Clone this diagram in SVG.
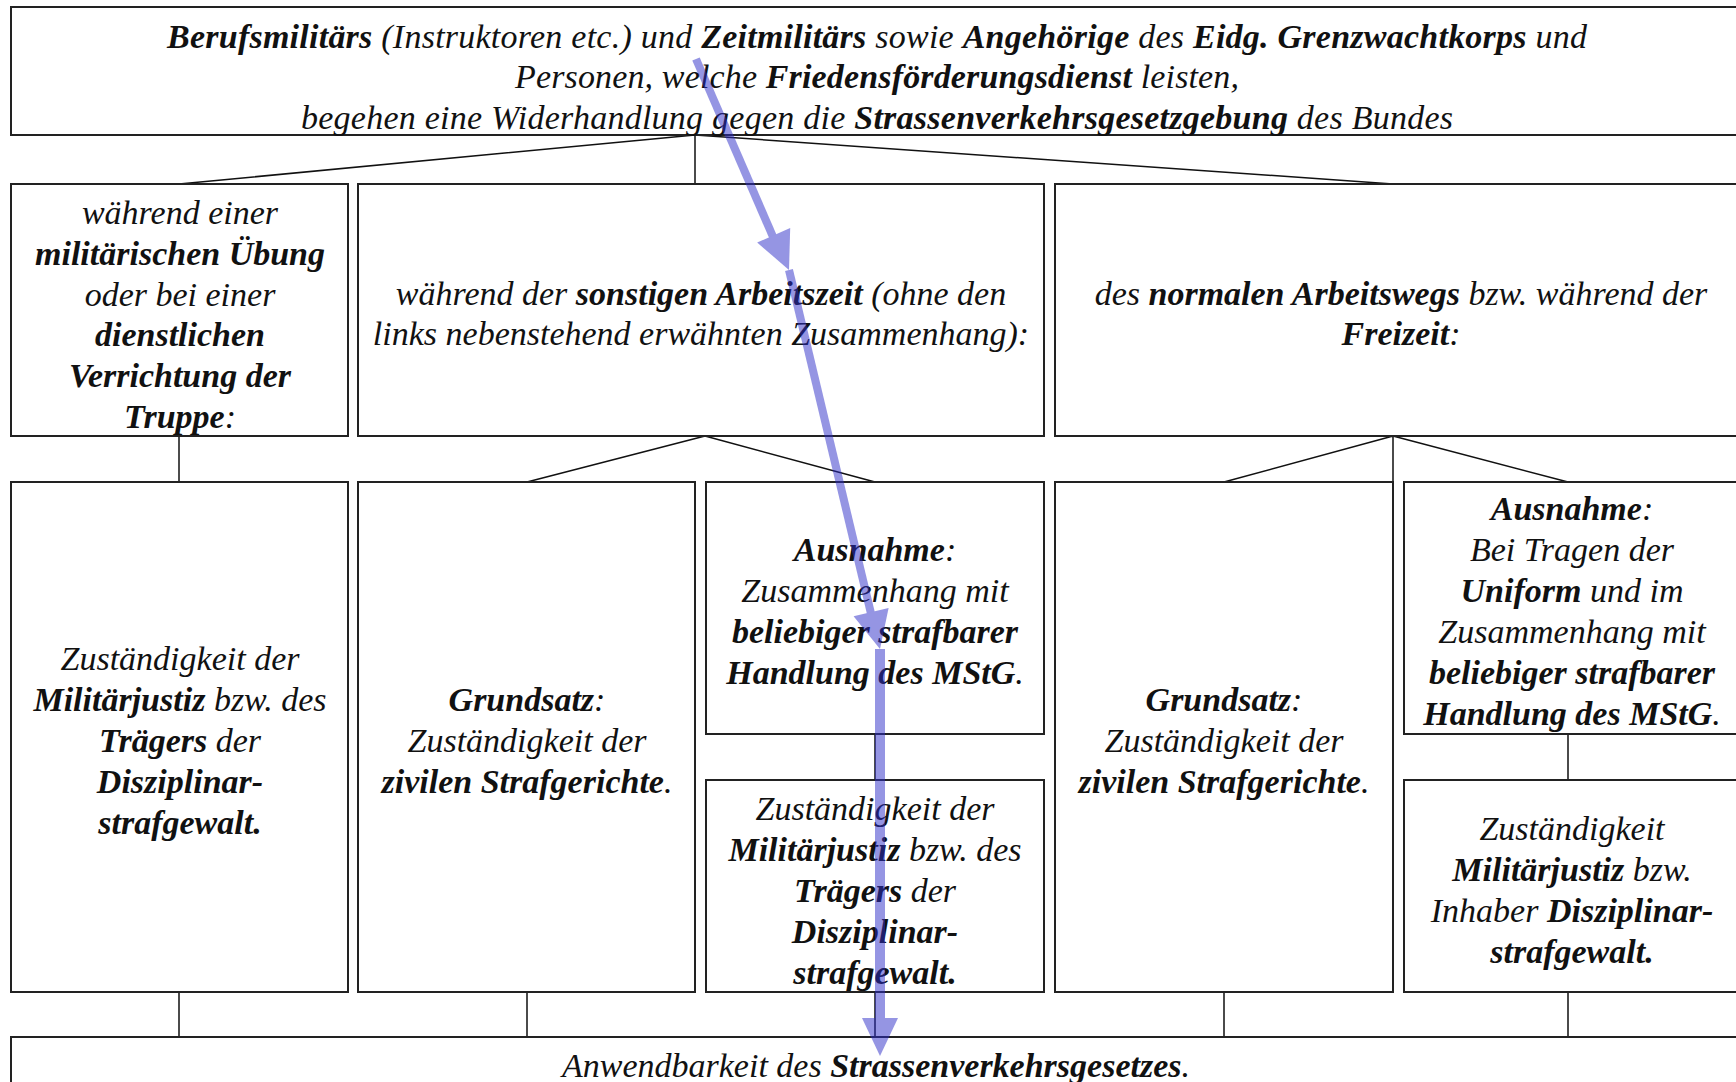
<svg xmlns="http://www.w3.org/2000/svg" width="1736" height="1082" viewBox="0 0 1736 1082">
<style>
.box{fill:#fff;stroke:#222;stroke-width:2}
.conn{stroke:#111;stroke-width:1.5;fill:none}
.t{font-family:"Liberation Serif","Times New Roman",serif;font-style:italic;font-size:34px;fill:#111;text-anchor:middle}
.b{font-weight:bold}
.ann{fill:rgb(45,45,201);stroke:none}
</style>
<rect width="1736" height="1082" fill="#fff"/>

<g id="connectors">
<path class="conn" d="M695,135 L179,184 M695,135 L695,184 M695,135 L1393,184"/>
<path class="conn" d="M179,436 L179,482"/>
<path class="conn" d="M705,436 L527,482 M705,436 L875,482"/>
<path class="conn" d="M1393,436 L1224,482 M1393,436 L1568,482 M1393,436 L1393,482"/>
<path class="conn" d="M875,734 L875,780 M1568,734 L1568,780"/>
<path class="conn" d="M179,992 L179,1037 M527,992 L527,1037 M875,992 L875,1037 M1224,992 L1224,1037 M1568,992 L1568,1037"/>
</g>

<g id="n_top">
<rect class="box" x="11" y="7" width="1740" height="128"/>
<text class="t" x="877" y="48" textLength="1420"><tspan class="b">Berufsmilitärs</tspan> (Instruktoren etc.) und <tspan class="b">Zeitmilitärs</tspan> sowie <tspan class="b">Angehörige</tspan> des <tspan class="b">Eidg. Grenzwachtkorps</tspan> und</text>
<text class="t" x="877" y="88" textLength="724">Personen, welche <tspan class="b">Friedensförderungsdienst</tspan> leisten,</text>
<text class="t" x="877" y="129" textLength="1152">begehen eine Widerhandlung gegen die <tspan class="b">Strassenverkehrsgesetzgebung</tspan> des Bundes</text>
</g>

<g id="n_a">
<rect class="box" x="11" y="184" width="337" height="252"/>
<text class="t" x="180" y="224">während einer</text>
<text class="t b" x="180" y="265">militärischen Übung</text>
<text class="t" x="180" y="306">oder bei einer</text>
<text class="t b" x="180" y="346">dienstlichen</text>
<text class="t b" x="180" y="387">Verrichtung der</text>
<text class="t" x="180" y="428"><tspan class="b">Truppe</tspan>:</text>
</g>

<g id="n_b">
<rect class="box" x="358" y="184" width="686" height="252"/>
<text class="t" x="701" y="305">während der <tspan class="b">sonstigen Arbeitszeit</tspan> (ohne den</text>
<text class="t" x="701" y="345">links nebenstehend erwähnten Zusammenhang):</text>
</g>

<g id="n_c">
<rect class="box" x="1055" y="184" width="700" height="252"/>
<text class="t" x="1401" y="305">des <tspan class="b">normalen Arbeitswegs</tspan> bzw. während der</text>
<text class="t" x="1401" y="345"><tspan class="b">Freizeit</tspan>:</text>
</g>

<g id="n_d">
<rect class="box" x="11" y="482" width="337" height="510"/>
<text class="t" x="180" y="670">Zuständigkeit der</text>
<text class="t" x="180" y="711"><tspan class="b">Militärjustiz</tspan> bzw. des</text>
<text class="t" x="180" y="752"><tspan class="b">Trägers</tspan> der</text>
<text class="t b" x="180" y="793">Disziplinar-</text>
<text class="t b" x="180" y="834">strafgewalt.</text>
</g>

<g id="n_e">
<rect class="box" x="358" y="482" width="337" height="510"/>
<text class="t" x="527" y="711"><tspan class="b">Grundsatz</tspan>:</text>
<text class="t" x="527" y="752">Zuständigkeit der</text>
<text class="t" x="527" y="793"><tspan class="b">zivilen Strafgerichte</tspan>.</text>
</g>

<g id="n_f">
<rect class="box" x="706" y="482" width="338" height="252"/>
<text class="t" x="875" y="561"><tspan class="b">Ausnahme</tspan>:</text>
<text class="t" x="875" y="602">Zusammenhang mit</text>
<text class="t b" x="875" y="643">beliebiger strafbarer</text>
<text class="t" x="875" y="684"><tspan class="b">Handlung des MStG</tspan>.</text>
</g>

<g id="n_g">
<rect class="box" x="706" y="780" width="338" height="212"/>
<text class="t" x="875" y="820">Zuständigkeit der</text>
<text class="t" x="875" y="861"><tspan class="b">Militärjustiz</tspan> bzw. des</text>
<text class="t" x="875" y="902"><tspan class="b">Trägers</tspan> der</text>
<text class="t b" x="875" y="943">Disziplinar-</text>
<text class="t b" x="875" y="984">strafgewalt.</text>
</g>

<g id="n_h">
<rect class="box" x="1055" y="482" width="338" height="510"/>
<text class="t" x="1224" y="711"><tspan class="b">Grundsatz</tspan>:</text>
<text class="t" x="1224" y="752">Zuständigkeit der</text>
<text class="t" x="1224" y="793"><tspan class="b">zivilen Strafgerichte</tspan>.</text>
</g>

<g id="n_i">
<rect class="box" x="1404" y="482" width="350" height="252"/>
<text class="t" x="1572" y="520"><tspan class="b">Ausnahme</tspan>:</text>
<text class="t" x="1572" y="561">Bei Tragen der</text>
<text class="t" x="1572" y="602"><tspan class="b">Uniform</tspan> und im</text>
<text class="t" x="1572" y="643">Zusammenhang mit</text>
<text class="t b" x="1572" y="684">beliebiger strafbarer</text>
<text class="t" x="1572" y="725"><tspan class="b">Handlung des MStG</tspan>.</text>
</g>

<g id="n_j">
<rect class="box" x="1404" y="780" width="350" height="212"/>
<text class="t" x="1572" y="840">Zuständigkeit</text>
<text class="t" x="1572" y="881"><tspan class="b">Militärjustiz</tspan> bzw.</text>
<text class="t" x="1572" y="922">Inhaber <tspan class="b">Disziplinar-</tspan></text>
<text class="t b" x="1572" y="963">strafgewalt.</text>
</g>

<g id="n_bottom">
<rect class="box" x="11" y="1037" width="1740" height="60"/>
<text class="t" x="876" y="1077">Anwendbarkeit des <tspan class="b">Strassenverkehrsgesetzes</tspan>.</text>
</g>

<g id="annotation" opacity="0.5">
<polygon class="ann" points="692.3,60.6 699.7,57.4 777.4,236.8 770.0,240.0"/>
<polygon class="ann" points="789,270 790.2,227.9 757.2,242.5"/>
<polygon class="ann" points="785.1,271.0 792.9,269.0 875.0,613.0 867.2,614.9"/>
<polygon class="ann" points="880,649 888.6,607.9 853.6,616.3"/>
<rect class="ann" x="875" y="649" width="10" height="370"/>
<polygon class="ann" points="880,1056 862,1018 898,1018"/>
</g>
</svg>
